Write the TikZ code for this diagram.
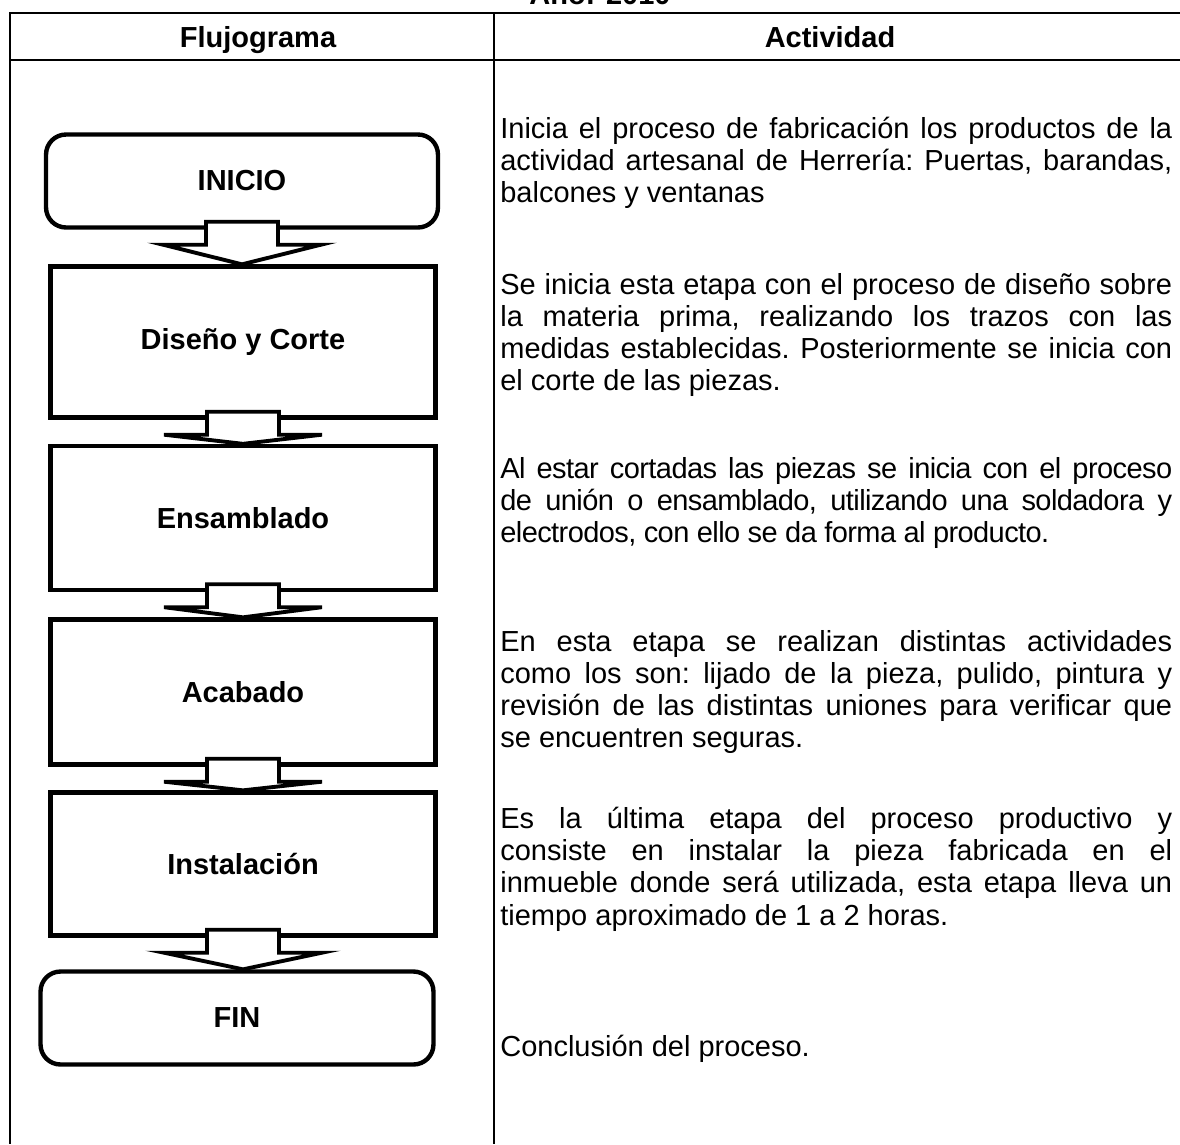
\documentclass[tikz,border=0pt]{standalone}
\usepackage{fontspec}
\setmainfont{Liberation Sans}
\usetikzlibrary{positioning, calc}

\tikzset{
  gridline/.style={line width=1.6pt},
  headtext/.style={inner sep=0pt, anchor=base, font=\bfseries\fontsize{16.5}{19}\selectfont},
  stepbox/.style={draw, line width=2.5pt, align=center, inner sep=0pt,
    font=\bfseries\fontsize{16.5}{19}\selectfont},
  termbox/.style={stepbox, rounded corners=0.4cm},
  acttext/.style={anchor=base west, inner sep=0pt, text width=13.44cm,
    align=justify, font=\fontsize{16.5}{18.4}\selectfont\frenchspacing},
  blockarrow/.style={draw, line width=2.2pt, fill=white},
}

% fat arrow from one box to the next
\newcommand{\blockarrow}[2]{%
  \draw[blockarrow] ($(#1.south)+(-36,-8)$) -- ($(#1.south)+(-36,15)$)
    -- ($(#1.south)+(-79,15)$) -- (#1.south |- #2.north)
    -- ($(#1.south)+(79,15)$) -- ($(#1.south)+(36,15)$)
    -- ($(#1.south)+(36,-8)$) -- cycle;}

\begin{document}
\begin{tikzpicture}[x=0.02cm, y=-0.02cm]
  \clip (0,0) rectangle (1180,1144);

  % Title (cut at the top)
  \node[headtext] (anio) at (600,4) {Año: 2010};

  % Table
  \draw[gridline] (1180,13) -- (10,13) -- (10,1144);
  \draw[gridline] (10,60) -- (1180,60);
  \draw[gridline] (494,13) -- (494,1144);
  \node[headtext] (hflujo) at (258,47) {Flujograma};
  \node[headtext] (hactiv) at (830,47) {Actividad};

  % Flowchart boxes
  \node[termbox, minimum width=7.84cm, minimum height=1.86cm] (inicio) at (242,181) {INICIO};
  \node[stepbox, minimum width=7.7cm, minimum height=3.02cm] (corte) at (243,342) {Diseño y Corte};
  \node[stepbox, minimum width=7.7cm, minimum height=2.88cm] (ensam) at (243,518) {Ensamblado};
  \node[stepbox, minimum width=7.7cm, minimum height=2.9cm] (acaba) at (243,692) {Acabado};
  \node[stepbox, minimum width=7.7cm, minimum height=2.86cm] (insta) at (243,864) {Instalación};
  \node[termbox, minimum width=7.86cm, minimum height=1.86cm] (fin) at (237,1018) {FIN};

  % Arrows
  \blockarrow{inicio}{corte}
  \blockarrow{corte}{ensam}
  \blockarrow{ensam}{acaba}
  \blockarrow{acaba}{insta}
  \blockarrow{insta}{fin}

  % Activities
  \node[acttext] (t1) at (500,138) {Inicia el proceso de fabricación los productos de la\linebreak
    actividad artesanal de Herrería: Puertas, barandas,\linebreak balcones y ventanas};
  \node[acttext] (t2) at (500,294) {Se inicia esta etapa con el proceso de diseño sobre\linebreak
    la materia prima, realizando los trazos con las\linebreak
    medidas establecidas. Posteriormente se inicia con\linebreak el corte de las piezas.};
  \node[acttext] (t3) at (500,478) {\addfontfeature{LetterSpace=-2}Al estar cortadas las piezas se inicia con el proceso\linebreak
    de unión o ensamblado, utilizando una soldadora y\linebreak
    electrodos, con ello se da forma al producto.};
  \node[acttext] (t4) at (500,651) {En esta etapa se realizan distintas actividades\linebreak
    como los son: lijado de la pieza, pulido, pintura y\linebreak
    revisión de las distintas uniones para verificar que\linebreak se encuentren seguras.};
  \node[acttext] (t5) at (500,828) {Es la última etapa del proceso productivo y\linebreak
    consiste en instalar la pieza fabricada en el\linebreak
    inmueble donde será utilizada, esta etapa lleva un\linebreak tiempo aproximado de 1 a 2 horas.};
  \node[acttext] (t6) at (500,1056) {Conclusión del proceso.};
\end{tikzpicture}
\end{document}
